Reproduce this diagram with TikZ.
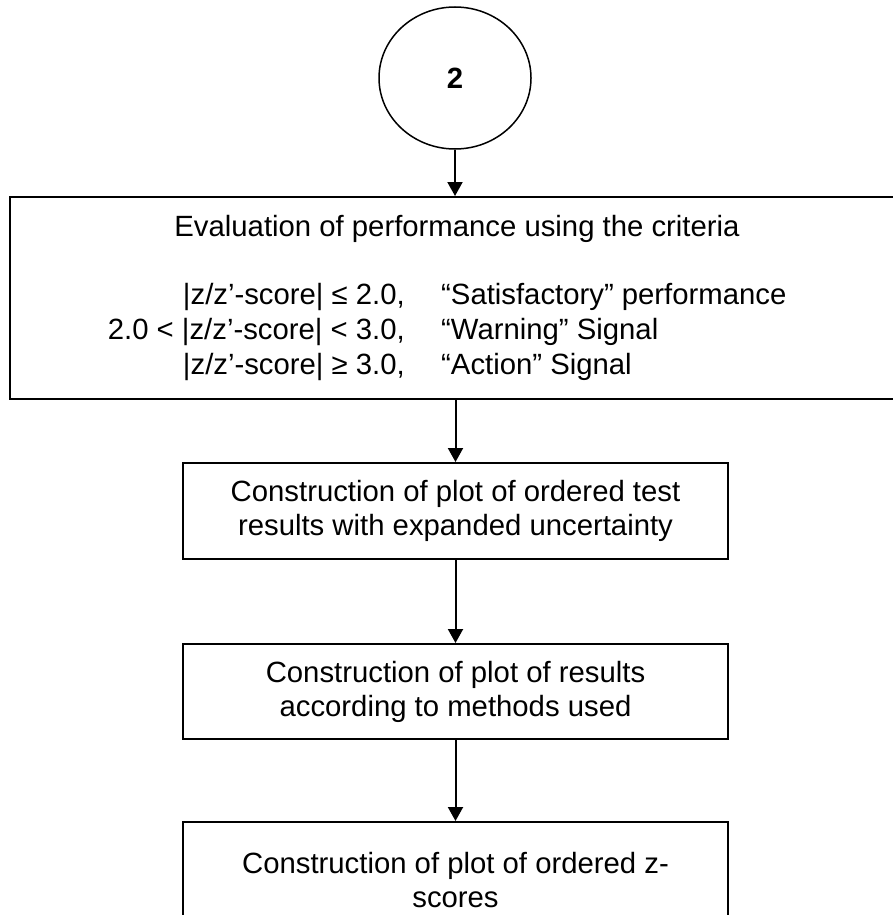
\documentclass[tikz,border=0pt]{standalone}
\usepackage{fontspec}
\setmainfont{Liberation Sans}
\usetikzlibrary{arrows.meta,shapes.geometric}
\begin{document}
\begin{tikzpicture}[x=1pt,y=-1pt,
  box/.style={draw, line width=2pt, rectangle, inner sep=0pt, align=center, font=\fontsize{29.3}{34}\selectfont},
  txt/.style={inner sep=0pt, font=\fontsize{29.3}{34}\selectfont},
  arr/.style={line width=2pt, -{Triangle[width=15pt,length=14pt]}},
  conn/.style={draw, line width=1.5pt, ellipse, inner sep=0pt, minimum width=152pt, minimum height=142pt, font=\bfseries\fontsize{29.3}{34}\selectfont}]
\useasboundingbox (0,0) rectangle (893,915);
\clip (0,0) rectangle (893,915);
\node[conn] (circ) at (455,78) {2};
\node[box, minimum width=893pt, minimum height=202pt] (b1) at (456.5,298) {};
\node[txt, anchor=base] (title) at (457,236) {Evaluation of performance using the criteria};
\node[txt, anchor=base east] (c1a) at (405,304) {|z/z’-score| ≤ 2.0,};
\node[txt, anchor=base west] (c1b) at (441,304) {“Satisfactory” performance};
\node[txt, anchor=base east] (c2a) at (405,339) {2.0 < |z/z’-score| < 3.0,};
\node[txt, anchor=base west] (c2b) at (441,339) {“Warning” Signal};
\node[txt, anchor=base east] (c3a) at (405,374) {|z/z’-score| ≥ 3.0,};
\node[txt, anchor=base west] (c3b) at (441,374) {“Action” Signal};
\node[box, minimum width=545pt, minimum height=96pt] (b2) at (455.5,511) {Construction of plot of ordered test\\results with expanded uncertainty};
\node[box, minimum width=545pt, minimum height=95pt] (b3) at (455.5,691.5) {Construction of plot of results\\according to methods used};
\node[box, minimum width=545pt, minimum height=116pt] (b4) at (455.5,880) {Construction of plot of ordered z-\\scores};
\draw[arr] (circ.south) -- (circ.south |- b1.north);
\draw[arr] (b1.south -| b2.north) -- (b2.north);
\draw[arr] (b2) -- (b3);
\draw[arr] (b3) -- (b4);
\end{tikzpicture}
\end{document}
